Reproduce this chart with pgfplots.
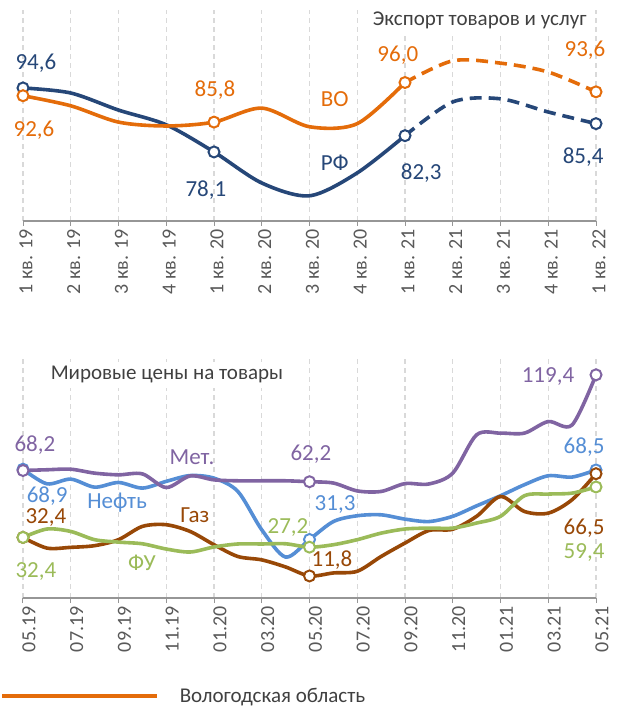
\documentclass[border=0pt]{standalone}
\usepackage{fontspec}
\setmainfont{Carlito}
\usepackage{pgfplots}
\pgfplotsset{compat=1.18}
\definecolor{rf}{RGB}{38,71,120}
\definecolor{vo}{RGB}{228,108,10}
\definecolor{met}{RGB}{128,100,162}
\definecolor{oil}{RGB}{85,142,213}
\definecolor{gas}{RGB}{152,72,7}
\definecolor{fu}{RGB}{155,187,89}
\definecolor{tickgray}{RGB}{89,89,89}
\definecolor{titlegray}{RGB}{64,64,64}
\definecolor{gridgray}{RGB}{217,217,217}
\definecolor{axisgray}{RGB}{150,150,150}
\newcommand\tickfont{\fontsize{20}{23}\selectfont}
\newcommand\lblfont{\fontsize{23}{26}\selectfont}
\newcommand\ttlfont{\fontsize{21}{25}\selectfont}
\tikzset{lbl/.style={font=\lblfont, text=#1, inner sep=0pt}}
\pgfplotsset{
  common/.style={
    anchor=south west, scale only axis, clip=false,
    axis x line*=bottom, axis y line=none,
    xticklabel style={rotate=90, anchor=east, font=\tickfont, text=tickgray},
    xmajorgrids,
    major grid style={gridgray, dash pattern=on 5pt off 4pt, line width=1.2pt},
    x axis line style={axisgray, line width=1.3pt},
    tick style={axisgray, line width=1pt},
    major tick length=5pt, tick align=outside,
  },
  ln/.style={#1, line width=3.6pt, smooth, no markers},
  mk/.style={only marks, mark=*, mark size=5.5pt, mark options={draw=#1, fill=white, line width=2pt}},
}
\begin{document}
\begin{tikzpicture}[x=1pt,y=1pt]
\useasboundingbox (0,0) rectangle (616,707);
% ---------------- top panel ----------------
\begin{axis}[common, at={(23pt,486pt)}, width=573pt, height=211pt,
  xmin=0, xmax=12, ymin=60.3, ymax=114.7,
  xtick={0,...,12},
  xticklabel style={yshift=-3pt},
  xticklabels={1 кв. 19,2 кв. 19,3 кв. 19,4 кв. 19,1 кв. 20,2 кв. 20,3 кв. 20,4 кв. 20,1 кв. 21,2 кв. 21,3 кв. 21,4 кв. 21,1 кв. 22}]
\addplot[ln=rf] coordinates {(0,94.6)(1,93.3)(2,88.9)(3,85.1)(4,78.1)(5,70.1)(6,66.8)(7,72.7)(8,82.3)};
\addplot[ln=rf, dash pattern=on 12pt off 7pt] coordinates {(8,82.3)(9,91.0)(10,91.8)(11,88.4)(12,85.4)};
\addplot[ln=vo] coordinates {(0,92.6)(1,90.0)(2,85.8)(3,84.8)(4,85.8)(5,89.4)(6,84.6)(7,85.4)(8,96.0)};
\addplot[ln=vo, dash pattern=on 12pt off 7pt] coordinates {(8,96.0)(9,101.6)(10,101.0)(11,98.7)(12,93.6)};
\addplot[mk=rf] coordinates {(0,94.6)(4,78.1)(8,82.3)(12,85.4)};
\addplot[mk=vo] coordinates {(0,92.6)(4,85.8)(8,96.0)(12,93.6)};
\node[lbl=rf] at (axis cs:0.27,101.0) {94,6};
\node[lbl=vo] at (axis cs:0.23,83.8) {92,6};
\node[lbl=vo] at (axis cs:4.02,94.1) {85,8};
\node[lbl=rf] at (axis cs:3.83,68.3) {78,1};
\node[lbl=vo] at (axis cs:7.85,103.1) {96,0};
\node[lbl=rf] at (axis cs:8.34,72.7) {82,3};
\node[lbl=vo] at (axis cs:11.77,104.4) {93,6};
\node[lbl=rf] at (axis cs:11.73,76.8) {85,4};
\node[lbl=vo] at (axis cs:6.53,91.8) {ВО};
\node[lbl=rf] at (axis cs:6.53,75.3) {РФ};
\node[font=\ttlfont, text=titlegray, fill=white, anchor=east, inner sep=3pt] at (axis cs:11.87,111.9) {Экспорт товаров и услуг};
\end{axis}
% ---------------- bottom panel ----------------
\begin{axis}[common, at={(23pt,109pt)}, width=573pt, height=243pt,
  xmin=0, xmax=24, ymin=0, ymax=130,
  xtick={0,2,...,24},
  xticklabel style={yshift=-6pt},
  xticklabels={05.19,07.19,09.19,11.19,01.20,03.20,05.20,07.20,09.20,11.20,01.21,03.21,05.21},
  legend style={at={(axis description cs:-0.0401,-0.4033)}, anchor=west, draw=none, fill=none, font=\ttlfont, text=titlegray, inner sep=0pt, nodes={inner sep=0pt}},
  legend image code/.code={\draw[#1] (0pt,0pt) -- (155pt,0pt); \path (176pt,0pt);}]
\addlegendimage{vo, line width=3.6pt}
\addlegendentry{Вологодская область}
\addplot[ln=oil, forget plot] coordinates {(0,68.9)(1,61.1)(2,63.6)(3,59.3)(4,61.8)(5,58.8)(6,62.4)(7,65.5)(8,64.1)(9,57.0)(10,36.5)(11,21.9)(12,31.3)(13,40.9)(14,44.0)(15,44.5)(16,42.2)(17,40.9)(18,43.7)(19,49.3)(20,54.7)(21,60.6)(22,65.4)(23,64.7)(24,68.5)};
\addplot[ln=gas, forget plot] coordinates {(0,32.4)(1,26.7)(2,27.1)(3,28.0)(4,31.2)(5,38.3)(6,39.2)(7,35.6)(8,28.5)(9,22.2)(10,20.4)(11,16.6)(12,11.8)(13,13.4)(14,14.3)(15,22.2)(16,29.4)(17,36.1)(18,36.8)(19,43.7)(20,54.3)(21,46.3)(22,45.4)(23,52.6)(24,66.5)};
\addplot[ln=fu, forget plot] coordinates {(0,32.4)(1,36.9)(2,35.6)(3,31.2)(4,29.9)(5,29.0)(6,26.2)(7,24.6)(8,27.3)(9,28.9)(10,28.9)(11,29.0)(12,27.2)(13,28.5)(14,31.2)(15,34.7)(16,36.9)(17,37.4)(18,37.4)(19,40.1)(20,43.7)(21,54.7)(22,55.6)(23,56.1)(24,59.4)};
\addplot[ln=met, forget plot] coordinates {(0,68.2)(1,68.6)(2,68.9)(3,66.8)(4,65.9)(5,66.4)(6,59.1)(7,65.3)(8,63.2)(9,62.7)(10,62.7)(11,62.7)(12,62.2)(13,61.5)(14,57.3)(15,57.0)(16,61.2)(17,61.0)(18,66.8)(19,87.3)(20,88.2)(21,88.2)(22,94.4)(23,92.6)(24,119.4)};
\addplot[mk=oil, forget plot] coordinates {(0,68.9)(12,31.3)(24,68.5)};
\addplot[mk=gas, forget plot] coordinates {(0,32.4)(12,11.8)(24,66.5)};
\addplot[mk=fu, forget plot] coordinates {(0,32.4)(12,27.2)(24,59.4)};
\addplot[mk=met, forget plot] coordinates {(0,68.2)(12,62.2)(24,119.4)};
\node[lbl=met] at (axis cs:0.50,81.9) {68,2};
\node[lbl=oil] at (axis cs:1.01,54.6) {68,9};
\node[lbl=oil] at (axis cs:3.94,50.9) {Нефть};
\node[lbl=gas] at (axis cs:0.96,43.0) {32,4};
\node[lbl=fu] at (axis cs:0.54,14.1) {32,4};
\node[lbl=met] at (axis cs:7.08,75.5) {Мет.};
\node[lbl=gas] at (axis cs:7.20,44.5) {Газ};
\node[lbl=fu] at (axis cs:4.98,18.9) {ФУ};
\node[lbl=fu] at (axis cs:11.10,37.6) {27,2};
\node[lbl=met] at (axis cs:12.06,77.1) {62,2};
\node[lbl=oil] at (axis cs:13.07,49.9) {31,3};
\node[lbl=gas] at (axis cs:12.94,20.5) {11,8};
\node[lbl=met] at (axis cs:21.99,118.3) {119,4};
\node[lbl=oil] at (axis cs:23.50,80.9) {68,5};
\node[lbl=gas] at (axis cs:23.50,37.6) {66,5};
\node[lbl=fu] at (axis cs:23.50,24.2) {59,4};
\node[font=\ttlfont, text=titlegray, fill=white, inner sep=3pt, minimum height=26pt] at (axis cs:6.03,119.4) {Мировые цены на товары};
\end{axis}
\end{tikzpicture}
\end{document}
